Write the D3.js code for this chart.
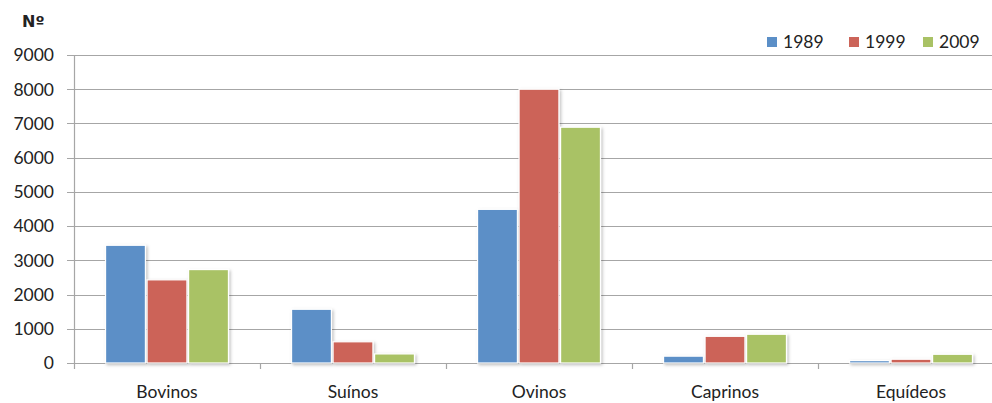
<!DOCTYPE html>
<html><head><meta charset="utf-8">
<script src="https://cdn.jsdelivr.net/npm/d3@7"></script>
<style>body{margin:0;background:#fff}text{font-family:Lato,"Open Sans",sans-serif;fill:#222}</style>
</head><body><svg id="c" width="992" height="403"></svg>
<script>
const categories = ["Bovinos","Suínos","Ovinos","Caprinos","Equídeos"];
const seriesNames = ["1989","1999","2009"];
const v1989 = [3440, 1570, 4490, 200, 70];
const v1999 = [2430, 620, 8000, 780, 110];
const v2009 = [2730, 265, 6890, 840, 255];
const yTicks = [0,1000,2000,3000,4000,5000,6000,7000,8000,9000];
const colors = ["#5B8FC7","#CC6459","#A9C265"];
const series = [v1989, v1999, v2009];

const svg = d3.select("#c");
const mLeft = 74, mRight = 1004, mTop = 55, mBottom = 363;
const x = d3.scaleBand().domain(categories).range([mLeft, mRight]).paddingInner(0).paddingOuter(0);
const y = d3.scaleLinear().domain([0, 9000]).range([mBottom, mTop]);
const xs = d3.scaleBand().domain(seriesNames).range([0, x.bandwidth()]).paddingOuter(0.76).paddingInner(0.04);

const defs = svg.append("defs");
const f = defs.append("filter").attr("id","sh").attr("x","-20%").attr("y","-20%").attr("width","150%").attr("height","150%");
f.append("feDropShadow").attr("dx",1.5).attr("dy",1.5).attr("stdDeviation",1.5).attr("flood-color","#000").attr("flood-opacity",0.25);

// gridlines
svg.append("g").selectAll("line").data(yTicks).join("line")
  .attr("x1", mLeft-7).attr("x2", 992).attr("y1", d=>Math.round(y(d))+0.5).attr("y2", d=>Math.round(y(d))+0.5)
  .attr("stroke","#A6A6A6").attr("stroke-width",1.2);
// y labels
svg.append("g").selectAll("text").data(yTicks).join("text")
  .attr("x", 54).attr("y", d=>y(d)).attr("dy","0.36em").attr("text-anchor","end")
  .style("font-size","17.5px").text(d=>d);
// y axis line
svg.append("line").attr("x1",mLeft+0.5).attr("x2",mLeft+0.5).attr("y1",mTop).attr("y2",mBottom).attr("stroke","#A6A6A6").attr("stroke-width",1.2);
// x ticks
const bounds = categories.map(c=>x(c)).concat([mRight]);
svg.append("g").selectAll("line").data(bounds).join("line")
  .attr("x1",d=>Math.round(d)+0.5).attr("x2",d=>Math.round(d)+0.5).attr("y1",mBottom).attr("y2",mBottom+6)
  .attr("stroke","#A6A6A6").attr("stroke-width",1.2);

// bars
series.forEach((vals, si) => {
  svg.append("g").attr("filter","url(#sh)").selectAll("rect").data(categories).join("rect")
    .attr("x", (c)=>x(c)+xs(seriesNames[si]))
    .attr("width", xs.bandwidth())
    .attr("y", (c,i)=>y(vals[i]))
    .attr("height", (c,i)=>mBottom - y(vals[i]))
    .attr("fill", colors[si]).attr("stroke","#fff").attr("stroke-width",1.2);
});

// category labels
svg.append("g").selectAll("text").data(categories).join("text")
  .attr("x", c=>x(c)+x.bandwidth()/2).attr("y", 398).attr("text-anchor","middle")
  .style("font-size","17.5px").text(c=>c);

// title Nº
svg.append("text").attr("x",22).attr("y",27).style("font-family","'DejaVu Sans',sans-serif").style("font-size","16px").style("font-weight","bold").text("Nº");

// legend
const lx = [767, 849, 923];
seriesNames.forEach((s,i)=>{
  svg.append("rect").attr("x",lx[i]).attr("y",37).attr("width",10).attr("height",10).attr("fill",colors[i]);
  svg.append("text").attr("x",lx[i]+16).attr("y",42).attr("dy","0.36em").style("font-size","17.5px").text(s);
});
</script></body></html>
